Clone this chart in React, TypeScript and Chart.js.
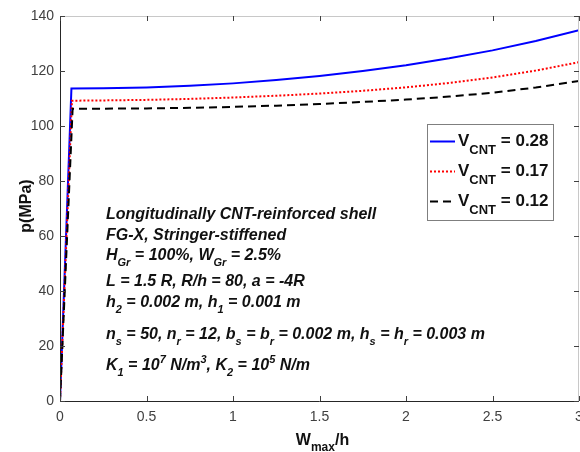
import React, { useEffect, useRef } from "react";
import { Chart, registerables } from "chart.js";

Chart.register(...registerables);

// ---- data ----
const wBlue = [0, 0.066, 0.25, 0.5, 0.75, 1.0, 1.25, 1.5, 1.75, 2.0, 2.25, 2.5, 2.75, 3.0];
const pBlue = [0, 113.6, 113.7, 114.0, 114.6, 115.5, 116.7, 118.2, 120.0, 122.1, 124.6, 127.5, 130.9, 134.8];

const wRed = [0, 0.069, 0.25, 0.5, 0.75, 1.0, 1.25, 1.5, 1.75, 2.0, 2.25, 2.5, 2.75, 3.0];
const pRed = [0, 109.2, 109.3, 109.5, 109.85, 110.35, 111.0, 111.8, 112.8, 114.05, 115.65, 117.65, 120.15, 123.2];

const wBlack = [0, 0.073, 0.25, 0.5, 0.75, 1.0, 1.25, 1.5, 1.75, 2.0, 2.25, 2.5, 2.75, 3.0];
const pBlack = [0, 106.3, 106.3, 106.4, 106.6, 106.95, 107.4, 108.0, 108.75, 109.6, 110.7, 112.1, 114.0, 116.4];

const vcntLabels = ["0.28", "0.17", "0.12"];

const xTickStep = 0.5;
const yTickStep = 20;
const xMin = 0, xMax = 3, yMin = 0, yMax = 140;

// ---- styling ----
const FONT = '"Liberation Sans", Arial, Helvetica, sans-serif';
const TICK_COLOR = "#404040";
const TEXT_COLOR = "#111111";

type Seg = [string, number]; // 0 normal, 1 sub, 2 sup

const annotationLines: Seg[][] = [
  [["Longitudinally CNT-reinforced shell", 0]],
  [["FG-X, Stringer-stiffened", 0]],
  [["H", 0], ["Gr", 1], [" = 100%, W", 0], ["Gr", 1], [" = 2.5%", 0]],
  [["L = 1.5 R, R/h = 80, a = -4R", 0]],
  [["h", 0], ["2", 1], [" = 0.002 m, h", 0], ["1", 1], [" = 0.001 m", 0]],
  [["n", 0], ["s", 1], [" = 50, n", 0], ["r", 1], [" = 12, b", 0], ["s", 1], [" = b", 0], ["r", 1], [" = 0.002 m, h", 0], ["s", 1], [" = h", 0], ["r", 1], [" = 0.003 m", 0]],
  [["K", 0], ["1", 1], [" = 10", 0], ["7", 2], [" N/m", 0], ["3", 2], [", K", 0], ["2", 1], [" = 10", 0], ["5", 2], [" N/m", 0]],
];
const annotationBaselines = [219, 240, 260, 286, 307, 339, 370];

function toPoints(xs: number[], ys: number[]) {
  return xs.map((x, i) => ({ x, y: ys[i] }));
}

function richWidth(ctx: CanvasRenderingContext2D, segs: Seg[], main: string, small: string) {
  let w = 0;
  for (const [t, k] of segs) {
    ctx.font = k === 0 ? main : small;
    w += ctx.measureText(t).width;
  }
  return w;
}

function drawRich(
  ctx: CanvasRenderingContext2D,
  x: number,
  y: number,
  segs: Seg[],
  main: string,
  small: string,
  subOff: number,
  supOff: number
) {
  ctx.textAlign = "left";
  ctx.textBaseline = "alphabetic";
  let cx = x;
  for (const [t, k] of segs) {
    ctx.font = k === 0 ? main : small;
    const dy = k === 1 ? subOff : k === 2 ? -supOff : 0;
    ctx.fillText(t, cx, y + dy);
    cx += ctx.measureText(t).width;
  }
  return cx;
}

const decorPlugin = {
  id: "decor",
  afterDraw(chart: any) {
    const ctx: CanvasRenderingContext2D = chart.ctx;
    const { left, right, top, bottom } = chart.chartArea;
    const xs = chart.scales.x;
    const ys = chart.scales.y;
    ctx.save();

    // box: top/right light, left/bottom dark
    ctx.lineWidth = 1;
    ctx.setLineDash([]);
    ctx.strokeStyle = "#c8c8c8";
    ctx.beginPath();
    ctx.moveTo(left, Math.round(top) + 0.5);
    ctx.lineTo(right, Math.round(top) + 0.5);
    ctx.moveTo(Math.round(right) - 0.5, top);
    ctx.lineTo(Math.round(right) - 0.5, bottom);
    ctx.stroke();

    ctx.strokeStyle = "#262626";
    ctx.beginPath();
    ctx.moveTo(Math.round(left) + 0.5, top);
    ctx.lineTo(Math.round(left) + 0.5, bottom + 0.5);
    ctx.moveTo(left, Math.round(bottom) + 0.5);
    ctx.lineTo(right, Math.round(bottom) + 0.5);
    ctx.stroke();

    // inward ticks
    const TL = 5;
    ctx.strokeStyle = "#404040";
    ctx.beginPath();
    for (const t of xs.ticks) {
      const px = Math.round(xs.getPixelForValue(t.value)) + 0.5;
      ctx.moveTo(px, bottom);
      ctx.lineTo(px, bottom - TL);
      ctx.moveTo(px, top);
      ctx.lineTo(px, top + TL);
    }
    for (const t of ys.ticks) {
      const py = Math.round(ys.getPixelForValue(t.value)) + 0.5;
      ctx.moveTo(left, py);
      ctx.lineTo(left + TL, py);
      ctx.moveTo(right, py);
      ctx.lineTo(right - TL, py);
    }
    ctx.stroke();

    // annotation text block
    ctx.fillStyle = TEXT_COLOR;
    const annMain = `italic bold 16px ${FONT}`;
    const annSmall = `italic bold 11px ${FONT}`;
    annotationLines.forEach((segs, i) => {
      drawRich(ctx, 106, annotationBaselines[i], segs, annMain, annSmall, 6, 7);
    });

    // legend
    const lx = 427.5, ly = 124.5, lw = 126, lh = 96;
    ctx.fillStyle = "#ffffff";
    ctx.fillRect(lx, ly, lw, lh);
    ctx.strokeStyle = "#7f7f7f";
    ctx.lineWidth = 1;
    ctx.strokeRect(lx, ly, lw, lh);
    const rowY = [141, 171, 201];
    const legMain = `bold 17px ${FONT}`;
    const legSmall = `bold 13px ${FONT}`;
    chart.data.datasets.forEach((ds: any, i: number) => {
      const y = rowY[i];
      ctx.strokeStyle = ds.borderColor;
      ctx.lineWidth = ds.borderWidth;
      ctx.setLineDash(ds.borderDash || []);
      ctx.beginPath();
      ctx.moveTo(430, y + 0.5);
      ctx.lineTo(455, y + 0.5);
      ctx.stroke();
      ctx.setLineDash([]);
      ctx.fillStyle = TEXT_COLOR;
      drawRich(
        ctx,
        458,
        y + 5,
        [["V", 0], ["CNT", 1], [" = " + vcntLabels[i], 0]],
        legMain,
        legSmall,
        8,
        0
      );
    });

    // axis titles
    ctx.fillStyle = TEXT_COLOR;
    const tMain = `bold 16px ${FONT}`;
    const tSmall = `bold 12px ${FONT}`;
    const xSegs: Seg[] = [["W", 0], ["max", 1], ["/h", 0]];
    const xw = richWidth(ctx, xSegs, tMain, tSmall);
    drawRich(ctx, (left + right) / 2 + 3 - xw / 2, 444.5, xSegs, tMain, tSmall, 6, 0);

    ctx.save();
    ctx.translate(31, 206);
    ctx.rotate(-Math.PI / 2);
    ctx.font = tMain;
    ctx.textAlign = "center";
    ctx.textBaseline = "alphabetic";
    ctx.fillText("p(MPa)", 0, 0);
    ctx.restore();

    ctx.restore();
  },
};

export default function App() {
  const ref = useRef<HTMLCanvasElement | null>(null);

  useEffect(() => {
    document.body.style.margin = "0";
    const canvas = ref.current;
    if (!canvas) return;
    const tickFont = { family: FONT, size: 14 };
    const chart = new Chart(canvas, {
      type: "line",
      data: {
        datasets: [
          {
            label: "V_CNT = 0.28",
            data: toPoints(wBlue, pBlue),
            borderColor: "#0000ff",
            borderWidth: 2,
            pointRadius: 0,
            tension: 0,
            fill: false,
            order: 3,
          },
          {
            label: "V_CNT = 0.17",
            data: toPoints(wRed, pRed),
            borderColor: "#ff0000",
            borderWidth: 2,
            borderDash: [2, 2],
            pointRadius: 0,
            tension: 0,
            fill: false,
            order: 2,
          },
          {
            label: "V_CNT = 0.12",
            data: toPoints(wBlack, pBlack),
            borderColor: "#000000",
            borderWidth: 2,
            borderDash: [8, 5],
            pointRadius: 0,
            tension: 0,
            fill: false,
            order: 1,
          },
        ],
      },
      options: {
        responsive: false,
        animation: false,
        devicePixelRatio: 1,
        layout: { padding: { top: 16, right: 1, left: 0, bottom: 0 }, autoPadding: false },
        plugins: { legend: { display: false }, tooltip: { enabled: false }, title: { display: false } },
        scales: {
          x: {
            type: "linear",
            min: xMin,
            max: xMax,
            afterFit: (s: any) => {
              s.height = 51;
              s.paddingLeft = 0;
              s.paddingRight = 0;
            },
            grid: { display: false, drawTicks: false },
            border: { display: false },
            ticks: {
              stepSize: xTickStep,
              padding: 8,
              color: TICK_COLOR,
              font: tickFont,
              maxRotation: 0,
              autoSkip: false,
              callback: (v: any) => String(v),
            },
          },
          y: {
            type: "linear",
            min: yMin,
            max: yMax,
            afterFit: (s: any) => {
              s.width = 60;
              s.paddingTop = 0;
              s.paddingBottom = 0;
            },
            grid: { display: false, drawTicks: false },
            border: { display: false },
            ticks: {
              stepSize: yTickStep,
              padding: 6,
              color: TICK_COLOR,
              font: tickFont,
              autoSkip: false,
              callback: (v: any) => String(v),
            },
          },
        },
      },
      plugins: [decorPlugin],
    } as any);
    return () => chart.destroy();
  }, []);

  return (
    <div style={{ width: 580, height: 452, background: "#ffffff" }}>
      <canvas ref={ref} width={580} height={452} style={{ display: "block", width: 580, height: 452 }} />
    </div>
  );
}
